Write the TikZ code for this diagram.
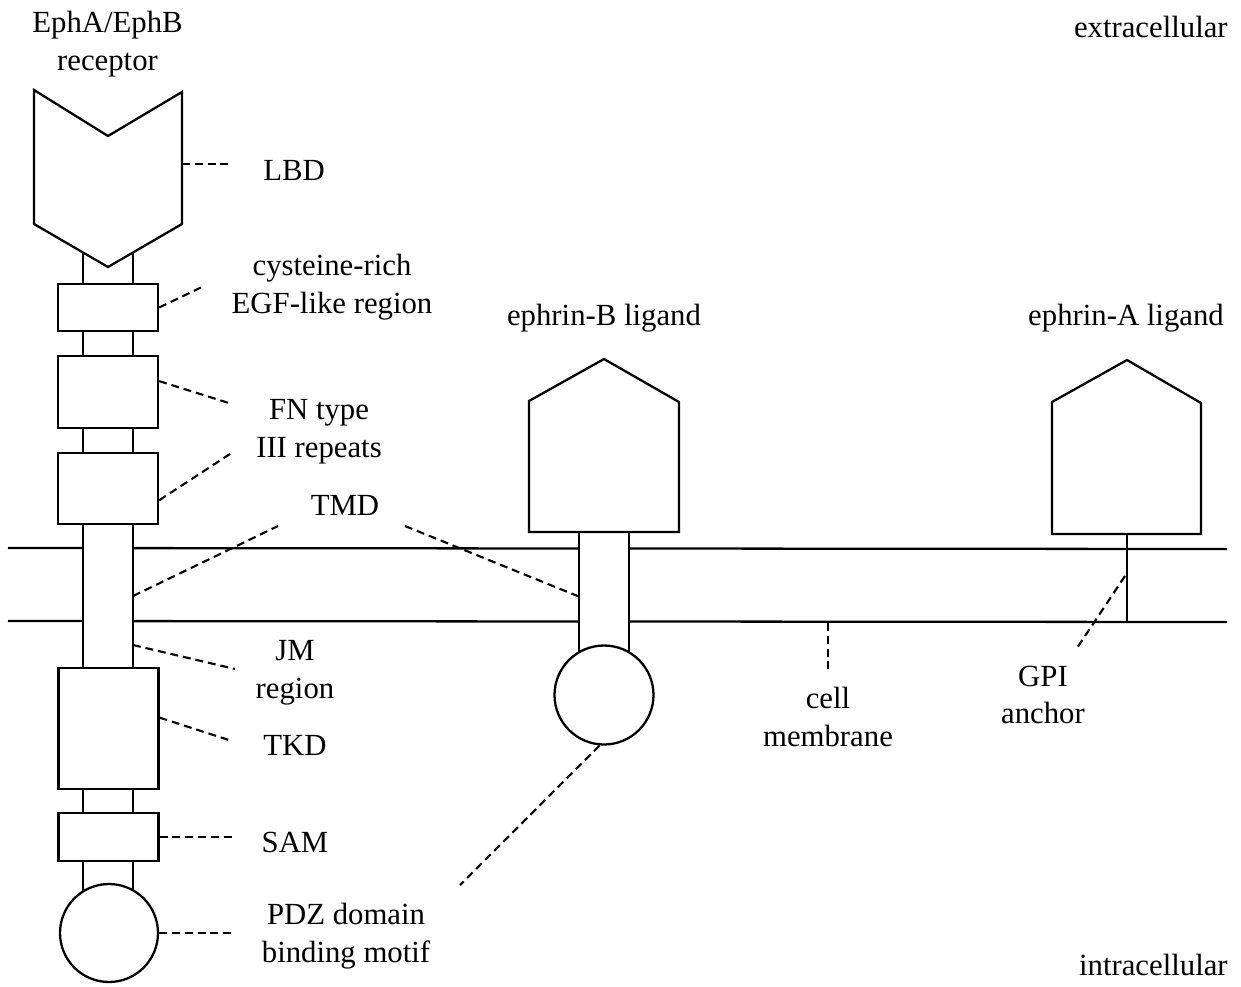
\documentclass[tikz,border=0pt]{standalone}
\usepackage{fontspec}
\setmainfont{Liberation Serif}
\usetikzlibrary{positioning}

\begin{document}
\begin{tikzpicture}[x=0.02cm, y=-0.02cm,
  wall/.style={line width=1.3pt},
  dom/.style={rectangle, draw, line width=1.3pt, fill=white, minimum width=2cm, inner sep=0pt},
  ball/.style={circle, draw, line width=1.3pt, fill=white, minimum size=1.96cm, inner sep=0pt},
  lab/.style={font=\fontsize{17.5}{21.5}\selectfont, align=center, inner sep=0pt},
  lead/.style={line width=1.2pt, dash pattern=on 4.5pt off 2.8pt}
]
  \useasboundingbox (0,0) rectangle (1241,987);

  % cell membrane
  \draw[wall] (8,548) -- (1227,549);
  \draw[wall] (8,621) -- (1227,622);

  % Eph receptor
  \draw[wall, fill=white] (83,250) rectangle (133,900);
  \draw[wall, fill=white] (34,90) -- (108,136) -- (182,92) -- (182,224) -- (108,267) -- (34,224) -- cycle;
  \node[dom, minimum height=0.94cm] (cys) at (108,307.5) {};
  \node[dom, minimum height=1.44cm] (fn1) at (108,392) {};
  \node[dom, minimum height=1.42cm] (fn2) at (108,488.5) {};
  \node[dom, minimum height=2.42cm] (tkd) at (108.5,728.5) {};
  \node[dom, minimum height=0.96cm] (sam) at (108.5,837) {};
  \node[ball] (pdz) at (109,933) {};

  % ephrin-B ligand
  \draw[wall, fill=white] (579,520) rectangle (629,660);
  \draw[wall, fill=white] (529,401) -- (604,359) -- (679,402) -- (679,532) -- (529,532) -- cycle;
  \node[ball, minimum size=1.98cm] (ebc) at (604,695) {};

  % ephrin-A ligand
  \coordinate (gpiTop) at (1127,534);
  \coordinate (gpiBot) at (1127,622);
  \draw[wall] (gpiTop) -- (gpiBot);
  \draw[wall, fill=white] (1052,402) -- (1127,360) -- (1201,403) -- (1201,534) -- (1052,534) -- cycle;

  % labels
  \node[lab] (rec) at (107.5,44) {EphA/EphB\\receptor};
  \node[lab] (lbdT) at (294,170) {LBD};
  \node[lab] (cysT) at (332,287) {cysteine-rich\\EGF-like region};
  \node[lab] (fnT) at (319,432) {FN type\\III repeats};
  \node[lab] (tmdT) at (345,505) {TMD};
  \node[lab] (jmT) at (295,673) {JM\\region};
  \node[lab] (tkdT) at (295,745) {TKD};
  \node[lab] (samT) at (295,842) {SAM};
  \node[lab] (pdzT) at (346,936) {PDZ domain\\binding motif};
  \node[lab] (ebT) at (604,318) {ephrin-B ligand};
  \node[lab] (eaT) at (1126,318) {ephrin-A ligand};
  \node[lab] (memT) at (828,717) {cell\\membrane};
  \node[lab] (gpiT) at (1043,695) {GPI\\anchor};
  \node[lab, anchor=east] (extra) at (1228,27) {extracellular};
  \node[lab, anchor=east] (intra) at (1228,965) {intracellular};

  % leader ends
  \foreach \n/\p in {lbd/{182,164}, lbdE/{232,164}, cysE/{202,287}, fnE1/{232,404},
      fnE2/{233,452}, tmd1/{133,596}, tmdE1/{278,526}, tmdE2/{405,526},
      tmd2/{580,597}, jm/{133,645}, jmE/{235,669}, tkdE/{232,741},
      samE/{235,837}, pdzE/{235,933}, ebE/{460,885}, mem/{828,623},
      memE/{828,670}, gpi/{1125,576}, gpiE/{1077,648}}
    \coordinate (\n) at (\p);

  % leaders
  \foreach \a/\b in {lbd/lbdE, cys.east/cysE, fn1.12/fnE1, fn2.-13/fnE2, tmd1/tmdE1,
      tmdE2/tmd2, jm/jmE, tkd.12/tkdE, sam.east/samE, pdz.east/pdzE, ebc.265/ebE,
      mem/memE, gpi/gpiE}
    \draw[lead] (\a) -- (\b);
\end{tikzpicture}
\end{document}
